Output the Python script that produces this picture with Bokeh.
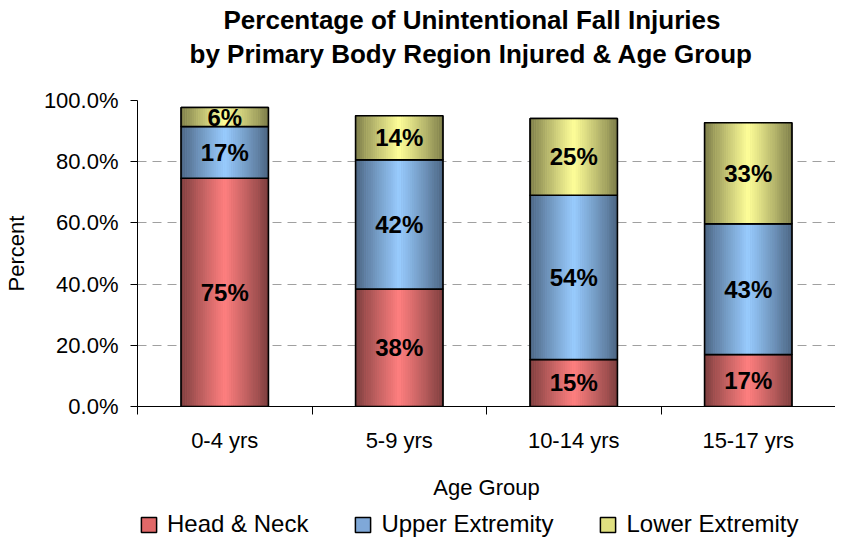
import pandas as pd
from bokeh.plotting import figure
from bokeh.layouts import column
from bokeh.models import (ColumnDataSource, FactorRange, Range1d, LinearAxis, Title,
                          FixedTicker, PrintfTickFormatter, Legend, LegendItem)
from bokeh.transform import dodge
from bokeh.core.properties import value
from bokeh.embed import file_html
from bokeh.resources import INLINE

# ---------------- data ----------------
age_groups = ["0-4 yrs", "5-9 yrs", "10-14 yrs", "15-17 yrs"]
head_neck = [74.6, 38.4, 15.4, 17.0]
upper_ext = [16.9, 42.2, 53.6, 42.7]
lower_ext = [6.2, 14.4, 25.1, 33.0]
series_names = ["Head & Neck", "Upper Extremity", "Lower Extremity"]
y_ticks = [0, 20, 40, 60, 80, 100]
title_lines = ["Percentage of Unintentional Fall Injuries",
               "by Primary Body Region Injured & Age Group"]

# ---------------- style ----------------
FONT = "Liberation Sans"
light_colors = ["#FF8080", "#99CCFF", "#FFFF99"]
dark_colors = ["#7A3D3D", "#4A6380", "#7A7A48"]
mid_colors = ["#E06868", "#7FA8D8", "#E0E080"]
BAR_W = 0.5
N_STRIPS = 40


def mix(c1, c2, t):
    a = [int(c1[i:i + 2], 16) for i in (1, 3, 5)]
    b = [int(c2[i:i + 2], 16) for i in (1, 3, 5)]
    return "#%02x%02x%02x" % tuple(round(x + (y - x) * t) for x, y in zip(a, b))


series_vals = [head_neck, upper_ext, lower_ext]
bottoms = [0.0] * len(age_groups)
sources = []
label_rows = {"age": [], "y": [], "text": []}
for vals in series_vals:
    tops = [b + v for b, v in zip(bottoms, vals)]
    sources.append(ColumnDataSource(dict(age=age_groups, bottom=list(bottoms), top=tops)))
    for a, b, t, v in zip(age_groups, bottoms, tops, vals):
        label_rows["age"].append(a)
        label_rows["y"].append((b + t) / 2)
        label_rows["text"].append(f"{v:.0f}%")
    bottoms = tops

p = figure(width=835, height=502,
           x_range=FactorRange(*age_groups), y_range=Range1d(0, 100),
           output_backend="svg", toolbar_location=None, x_axis_location=None,
           min_border_left=133, min_border_right=0, min_border_top=100, min_border_bottom=96)
p.outline_line_color = None
p.background_fill_color = "white"
p.border_fill_color = "white"

for si, src in enumerate(sources):
    p.vbar(x="age", width=BAR_W, bottom="bottom", top="top", source=src,
           fill_color=mid_colors[si], line_color="black", line_width=1.5)
    sw = BAR_W / N_STRIPS
    for k in range(N_STRIPS):
        frac = (k + 0.5) / N_STRIPS
        u = 1 - abs(2 * frac - 1)
        col = mix(dark_colors[si], light_colors[si], u ** 0.9)
        off = -BAR_W / 2 + frac * BAR_W
        p.vbar(x=dodge("age", off, range=p.x_range), width=sw * 1.15,
               bottom="bottom", top="top", source=src,
               fill_color=col, line_color=None)
    p.vbar(x="age", width=BAR_W, bottom="bottom", top="top", source=src,
           fill_color=None, line_color="black", line_width=1.5)

lab_src = ColumnDataSource(label_rows)
p.text(x="age", y="y", text="text", source=lab_src,
       text_font=value(FONT), text_font_size="24px", text_font_style="bold",
       text_align="center", text_baseline="middle", text_color="black")

# y axis
yax = p.yaxis[0]
yax.ticker = FixedTicker(ticks=y_ticks)
yax.formatter = PrintfTickFormatter(format="%.1f%%")
yax.major_label_text_font = FONT
yax.major_label_text_font_size = "22px"
yax.major_label_text_color = "black"
yax.major_tick_out = 7
yax.major_tick_in = 0
yax.minor_tick_line_color = None
yax.major_label_standoff = 12
yax.axis_label = "Percent"
yax.axis_label_text_font = FONT
yax.axis_label_text_font_size = "22px"
yax.axis_label_text_font_style = "normal"
yax.axis_label_text_color = "black"
yax.axis_label_standoff = 12
yax.axis_line_color = "black"
yax.major_tick_line_color = "black"

p.xgrid.visible = False
p.ygrid.ticker = FixedTicker(ticks=y_ticks)
p.ygrid.grid_line_color = "#A0A0A0"
p.ygrid.grid_line_dash = "9 6"

# x axis: labels at category centres, tick marks at category boundaries
n = len(age_groups)
centres = [i + 0.5 for i in range(n)]
edges = list(range(n + 1))
xax = LinearAxis(ticker=FixedTicker(ticks=centres, minor_ticks=edges),
                 major_label_overrides={c: a for c, a in zip(centres, age_groups)},
                 major_tick_line_color=None, major_tick_out=0, major_tick_in=0,
                 minor_tick_line_color="black", minor_tick_out=8, minor_tick_in=0,
                 axis_line_color="black",
                 major_label_text_font=FONT, major_label_text_font_size="22px",
                 major_label_text_color="black", major_label_standoff=13,
                 axis_label="Age Group", axis_label_text_font=FONT,
                 axis_label_text_font_size="22px", axis_label_text_font_style="normal",
                 axis_label_text_color="black", axis_label_standoff=19)
p.add_layout(xax, "below")

# two-line title, each line centred over the chart area
p.title = Title(text=title_lines[0], align="left", offset=86, standoff=0, text_font=FONT,
                text_font_size="26px", text_font_style="bold", text_color="black")
p.add_layout(Title(text=title_lines[1] + "\n", align="left", offset=52, standoff=4,
                   text_font=FONT, text_font_size="26px", text_font_style="bold",
                   text_color="black"), "above")

# ---------------- legend strip ----------------
pl = figure(width=835, height=36, x_range=FactorRange(*age_groups), y_range=Range1d(-2, -1),
            output_backend="svg", toolbar_location=None,
            x_axis_location=None, y_axis_location=None,
            min_border_left=0, min_border_right=0, min_border_top=0, min_border_bottom=0)
pl.grid.visible = False
pl.outline_line_color = None
legend_items = []
for si, name in enumerate(series_names):
    # legend-only renderers (hidden in the strip, shown as legend swatches)
    r = pl.vbar(x="age", width=BAR_W, bottom="bottom", top="top", source=sources[si],
                fill_color=mid_colors[si], line_color="black", line_width=1.5)
    r.visible = False
    legend_items.append(LegendItem(label=name, renderers=[r]))
legend = Legend(items=legend_items, orientation="horizontal", location=(2, 0),
                spacing=45, glyph_width=19, glyph_height=19, label_standoff=9,
                label_text_font=FONT, label_text_font_size="24px", label_text_color="black",
                border_line_color=None, background_fill_alpha=0, padding=0, margin=0,
                inactive_fill_alpha=0)
pl.add_layout(legend, "center")

layout = column(p, pl, spacing=0)
open("out.html", "w").write(file_html(layout, INLINE))
